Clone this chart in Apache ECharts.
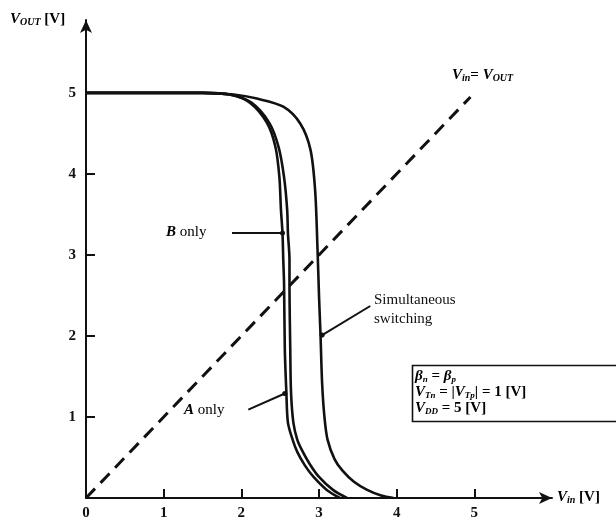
<!DOCTYPE html>
<html>
<head>
<meta charset="utf-8">
<script src="https://cdn.jsdelivr.net/npm/echarts@6/dist/echarts.min.js"></script>
<style>
  html, body { margin: 0; padding: 0; background: #fff; }
  #chart { width: 616px; height: 524px; }
</style>
</head>
<body>
<div id="chart"></div>
<script>
// curves: [Vin, Vout]
const bOnly = [[0, 5], [1.5, 5], [1.85, 4.98], [2.11, 4.88], [2.33, 4.63], [2.44, 4.33], [2.49, 3.96], [2.51, 3.56], [2.53, 3.27], [2.54, 2.94], [2.55, 2.65], [2.56, 1.83], [2.58, 1.3], [2.6, 0.93], [2.66, 0.72], [2.72, 0.57], [2.82, 0.4], [2.93, 0.26], [3.1, 0.1], [3.27, 0]]
const aOnly = [[0, 5], [1.5, 5], [1.85, 4.98], [2.13, 4.88], [2.36, 4.63], [2.48, 4.33], [2.55, 3.96], [2.59, 3.56], [2.6, 3.27], [2.62, 2.94], [2.62, 2.65], [2.63, 1.83], [2.64, 1.3], [2.67, 0.93], [2.72, 0.72], [2.78, 0.59], [2.88, 0.42], [3.0, 0.26], [3.18, 0.1], [3.36, 0]]
const simultaneous = [[0, 5], [1.5, 5], [1.9, 4.98], [2.2, 4.93], [2.54, 4.83], [2.76, 4.62], [2.89, 4.3], [2.95, 3.8], [2.98, 3.1], [3.0, 2.5], [3.02, 2.0], [3.04, 1.42], [3.07, 1.0], [3.11, 0.72], [3.2, 0.48], [3.3, 0.34], [3.45, 0.2], [3.62, 0.1], [3.8, 0.03], [3.96, 0]]
const unityLine = [[0, 0], [4.95, 4.95]]

const xTickValues = [1, 2, 3, 4, 5]
const xLabelValues = [0, 1, 2, 3, 4, 5]
const yTickValues = [1, 2, 3, 4, 5]

// leader lines for the labels, in data units
const bLeader = [[1.88, 3.27], [2.53, 3.27]]
const aLeader = [[2.09, 1.09], [2.56, 1.29]]
const simLeader = [[3.66, 2.37], [3.04, 2.01]]

const FONT = '"Liberation Serif", "DejaVu Serif", serif'
const chart = echarts.init(document.getElementById('chart'))

const curveStyle = { color: '#111', width: 2.6 }

const leader = (pts) => ({
  silent: true,
  symbol: ['none', 'circle'],
  symbolSize: 5,
  lineStyle: { color: '#111', width: 2, type: 'solid' },
  label: { show: false },
  data: [[{ coord: pts[0] }, { coord: pts[1] }]]
})

const sub = { fontSize: 10, fontFamily: FONT, fontWeight: 'bold', fontStyle: 'italic', padding: [7, 0, 0, 0], verticalAlign: 'bottom' }
const vv = { fontSize: 15, fontFamily: FONT, fontWeight: 'bold', fontStyle: 'italic', verticalAlign: 'bottom' }
const plain = { fontSize: 15, fontFamily: FONT, fontWeight: 'bold', verticalAlign: 'bottom' }

const option = {
  backgroundColor: '#fff',
  animation: false,
  grid: { left: 86, right: 64, top: 20, bottom: 26 },
  xAxis: {
    type: 'value',
    min: 0,
    max: 6,
    interval: 1,
    splitLine: { show: false },
    axisLine: { lineStyle: { color: '#111', width: 2 }, symbol: ['none', 'arrow'], symbolSize: [9, 13] },
    axisTick: { inside: true, length: 9, lineStyle: { color: '#111', width: 2 }, customValues: xTickValues },
    axisLabel: { color: '#111', fontFamily: FONT, fontWeight: 'bold', fontSize: 15, margin: 8, customValues: xLabelValues }
  },
  yAxis: {
    type: 'value',
    min: 0,
    max: 5.9,
    interval: 1,
    splitLine: { show: false },
    axisLine: { lineStyle: { color: '#111', width: 2 }, symbol: ['none', 'arrow'], symbolSize: [9, 13] },
    axisTick: { inside: true, length: 9, lineStyle: { color: '#111', width: 2 }, customValues: yTickValues },
    axisLabel: { color: '#111', fontFamily: FONT, fontWeight: 'bold', fontSize: 15, margin: 10, customValues: yTickValues }
  },
  series: [
    {
      name: 'Vin = Vout',
      type: 'line',
      data: unityLine,
      symbol: 'none',
      lineStyle: { color: '#111', width: 3, type: [13, 8] },
      z: 1
    },
    {
      name: 'B only',
      type: 'line',
      data: bOnly,
      symbol: 'none',
      smooth: 0.3,
      lineStyle: curveStyle,
      markLine: leader(bLeader)
    },
    {
      name: 'A only',
      type: 'line',
      data: aOnly,
      symbol: 'none',
      smooth: 0.3,
      lineStyle: curveStyle,
      markLine: leader(aLeader)
    },
    {
      name: 'Simultaneous switching',
      type: 'line',
      data: simultaneous,
      symbol: 'none',
      smooth: 0.3,
      lineStyle: curveStyle,
      markLine: leader(simLeader)
    }
  ],
  graphic: [
    {
      type: 'text', left: 10, top: 12,
      style: { text: '{v|V}{s|OUT}{p| [V]}', rich: { v: vv, s: sub, p: plain } }
    },
    {
      type: 'text', left: 557, top: 490,
      style: { text: '{v|V}{s|in}{p| [V]}', rich: { v: vv, s: sub, p: plain } }
    },
    {
      type: 'text', left: 452, top: 68,
      style: { text: '{v|V}{s|in}{p|= }{v|V}{s|OUT}', rich: { v: vv, s: sub, p: plain } }
    },
    {
      type: 'text', left: 166, top: 225,
      style: { text: '{v|B}{p| only}', rich: { v: vv, p: { ...plain, fontWeight: 'normal' } } }
    },
    {
      type: 'text', left: 184, top: 403,
      style: { text: '{v|A}{p| only}', rich: { v: vv, p: { ...plain, fontWeight: 'normal' } } }
    },
    {
      type: 'text', left: 374, top: 291,
      style: { text: 'Simultaneous\nswitching', font: '15px ' + FONT, fill: '#111', lineHeight: 19 }
    },
    {
      type: 'rect', left: 410, top: 363,
      shape: { width: 230, height: 56 },
      style: { fill: 'none', stroke: '#111', lineWidth: 1.6 }
    },
    {
      type: 'text', left: 415, top: 368,
      style: {
        text: '{v|β}{s|n}{p| = }{v|β}{s|p}\n{v|V}{s|Tn}{p| = |}{v|V}{s|Tp}{p|| = 1 [V]}\n{v|V}{s|DD}{p| = 5 [V]}',
        rich: {
          v: { ...vv, fontSize: 15, lineHeight: 16 },
          s: { ...sub, fontSize: 9, lineHeight: 16 },
          p: { ...plain, fontSize: 15, lineHeight: 16 }
        }
      }
    }
  ]
}

chart.setOption(option)
</script>
</body>
</html>
